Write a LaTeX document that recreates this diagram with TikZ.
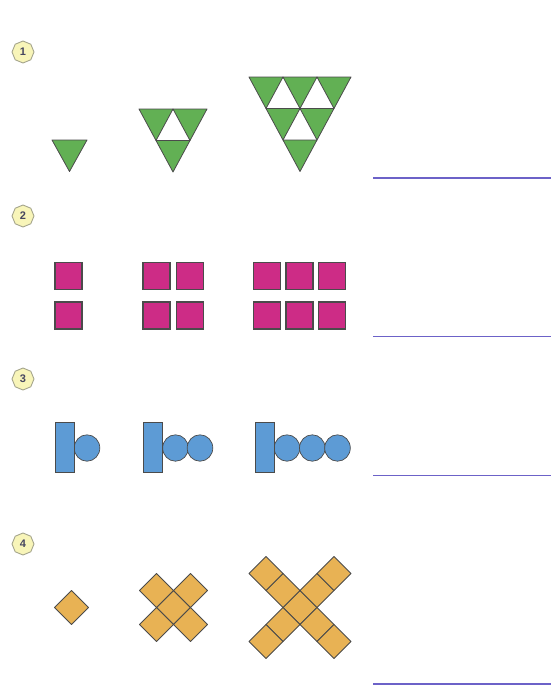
\documentclass[tikz,border=0pt]{standalone}
\usepackage{fontspec}
\newfontfamily\badgefont{Liberation Sans}
\usetikzlibrary{shapes.geometric}
\definecolor{trigreen}{RGB}{98,176,84}
\definecolor{sqpink}{RGB}{205,44,134}
\definecolor{rodblue}{RGB}{93,155,213}
\definecolor{diaorange}{RGB}{232,178,84}
\definecolor{edgegray}{RGB}{75,75,75}
\definecolor{rulecol}{RGB}{108,98,200}
\definecolor{badgefill}{RGB}{248,245,185}
\definecolor{badgeedge}{RGB}{165,165,140}
\definecolor{badgetext}{RGB}{70,70,95}
\tikzset{
  tri/.style={draw=edgegray, fill=trigreen, line width=0.8pt, line join=round},
  sq/.style={draw=edgegray, fill=sqpink, line width=1.2pt},
  rod/.style={draw=edgegray, fill=rodblue, line width=0.9pt},
  bead/.style={draw=edgegray, fill=rodblue, line width=0.7pt},
  dia/.style={draw=edgegray, fill=diaorange, line width=0.8pt, line join=round},
  badge/.style={regular polygon, regular polygon sides=8, shape border rotate=22.5,
    draw=badgeedge, fill=badgefill, line width=0.9pt, minimum size=22pt, inner sep=0pt,
    text=badgetext, font=\badgefont\bfseries\fontsize{11}{11}\selectfont},
  answer/.style={draw=rulecol, line width=1.8pt}
}
\newcommand\dtri[3]{\draw[tri] (#1,#2) -- ++(#3,0) -- ++(-#3/2,31.5) -- cycle;}
\newcommand\pinksq[2]{\draw[sq] (#1,#2) rectangle ++(27,27);}
\newcommand\diam[3]{\draw[dia] (#1-#3,#2) -- (#1,#2-#3) -- (#1+#3,#2) -- (#1,#2+#3) -- cycle;}
\begin{document}
\begin{tikzpicture}[x=1pt,y=-1pt]
\useasboundingbox (0,0) rectangle (555,691);
\fill[white] (0,0) rectangle (555,691);
% badges
\node[badge] (b1) at (23,52) {1};
\node[badge] (b2) at (23,216) {2};
\node[badge] (b3) at (23,379) {3};
\node[badge] (b4) at (23,544) {4};
% answer lines
\coordinate (l1a) at (373,178); \coordinate (l1b) at (551,178);
\coordinate (l2a) at (373,336.5); \coordinate (l2b) at (551,336.5);
\coordinate (l3a) at (373,475.5); \coordinate (l3b) at (551,475.5);
\coordinate (l4a) at (373,684); \coordinate (l4b) at (551,684);
\draw[answer] (l1a) -- (l1b);
\draw[answer] (l2a) -- (l2b);
\draw[answer] (l3a) -- (l3b);
\draw[answer] (l4a) -- (l4b);
% row 1: triangles
\draw[tri] (52,140) -- ++(35,0) -- ++(-17.5,31.5) -- cycle;
\dtri{139}{109}{34}\dtri{173}{109}{34}\dtri{156}{140.5}{34}
\dtri{249}{77}{34}\dtri{283}{77}{34}\dtri{317}{77}{34}
\dtri{266}{108.5}{34}\dtri{300}{108.5}{34}
\dtri{283}{140}{34}
% row 2: squares
\pinksq{55}{262.5}\pinksq{55}{302}
\pinksq{143}{262.5}\pinksq{176.5}{262.5}\pinksq{143}{302}\pinksq{176.5}{302}
\pinksq{253.5}{262.5}\pinksq{286}{262.5}\pinksq{318.5}{262.5}
\pinksq{253.5}{302}\pinksq{286}{302}\pinksq{318.5}{302}
% row 3: rods and beads
\draw[bead] (87,448) ellipse (12.8 and 13.2);
\draw[rod] (55,422) rectangle (74,472.5);
\draw[bead] (175.5,448) ellipse (12.8 and 13.2);
\draw[bead] (200,448) ellipse (12.8 and 13.2);
\draw[rod] (143,422) rectangle (162.5,472.5);
\draw[bead] (287,448) ellipse (12.8 and 13.2);
\draw[bead] (312.3,448) ellipse (12.8 and 13.2);
\draw[bead] (337.5,448) ellipse (12.8 and 13.2);
\draw[rod] (255,422) rectangle (274.3,472.5);
% row 4: diamonds
\diam{71.5}{607.5}{17}
\diam{173.5}{607.5}{17}
\diam{156.5}{590.5}{17}\diam{190.5}{590.5}{17}
\diam{156.5}{624.5}{17}\diam{190.5}{624.5}{17}
\diam{300}{607.5}{17}
\diam{283}{590.5}{17}\diam{317}{590.5}{17}
\diam{283}{624.5}{17}\diam{317}{624.5}{17}
\diam{266}{573.5}{17}\diam{334}{573.5}{17}
\diam{266}{641.5}{17}\diam{334}{641.5}{17}
\end{tikzpicture}
\end{document}
